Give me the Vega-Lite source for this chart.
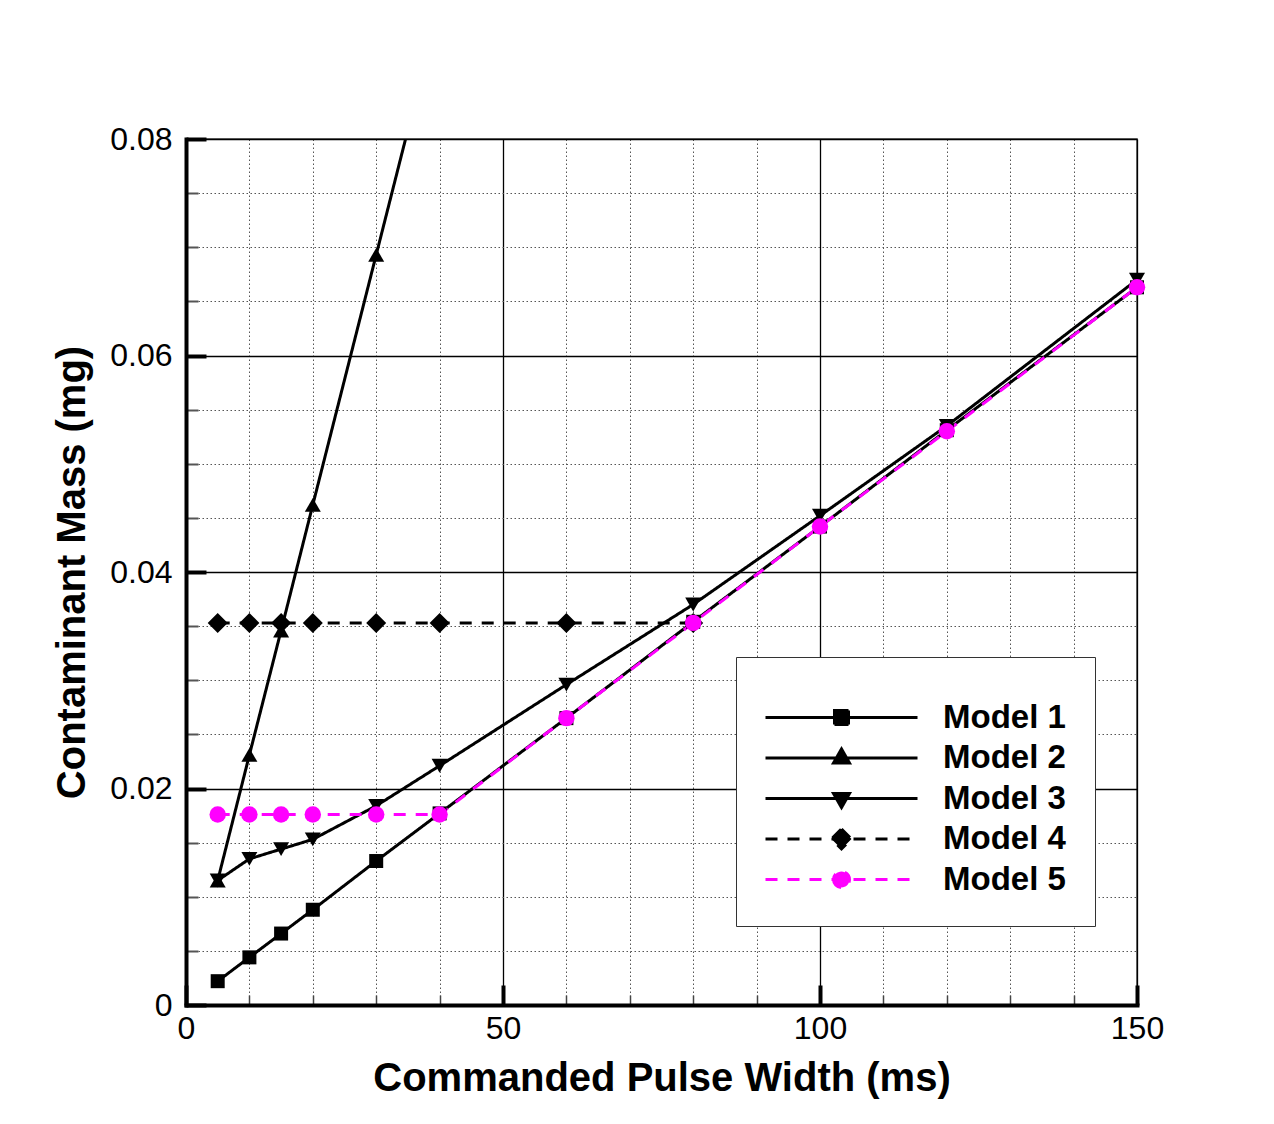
{
  "$schema": "https://vega.github.io/schema/vega-lite/v6.json",
  "autosize": "none",
  "width": 951,
  "height": 866,
  "padding": {"left": 186, "top": 139, "right": 137, "bottom": 119},
  "background": "white",
  "config": {"view": {"stroke": "#444", "strokeWidth": 1.5}, "font": "Liberation Sans"},
  "data": {"values": [
    {"model": "Model 1", "pw": 5, "mass": 0.0022},
    {"model": "Model 1", "pw": 10, "mass": 0.0044},
    {"model": "Model 1", "pw": 15, "mass": 0.0066},
    {"model": "Model 1", "pw": 20, "mass": 0.0088},
    {"model": "Model 1", "pw": 30, "mass": 0.0133},
    {"model": "Model 1", "pw": 40, "mass": 0.0177},
    {"model": "Model 1", "pw": 60, "mass": 0.0265},
    {"model": "Model 1", "pw": 80, "mass": 0.0354},
    {"model": "Model 1", "pw": 100, "mass": 0.0442},
    {"model": "Model 1", "pw": 120, "mass": 0.0531},
    {"model": "Model 1", "pw": 150, "mass": 0.0663},
    {"model": "Model 2", "pw": 5, "mass": 0.0115},
    {"model": "Model 2", "pw": 10, "mass": 0.0231},
    {"model": "Model 2", "pw": 15, "mass": 0.0346},
    {"model": "Model 2", "pw": 20, "mass": 0.0462},
    {"model": "Model 2", "pw": 30, "mass": 0.0693},
    {"model": "Model 2", "pw": 40, "mass": 0.0924},
    {"model": "Model 3", "pw": 5, "mass": 0.0115},
    {"model": "Model 3", "pw": 10, "mass": 0.0135},
    {"model": "Model 3", "pw": 15, "mass": 0.0144},
    {"model": "Model 3", "pw": 20, "mass": 0.0153},
    {"model": "Model 3", "pw": 30, "mass": 0.0184},
    {"model": "Model 3", "pw": 40, "mass": 0.0221},
    {"model": "Model 3", "pw": 60, "mass": 0.0296},
    {"model": "Model 3", "pw": 80, "mass": 0.0370},
    {"model": "Model 3", "pw": 100, "mass": 0.0452},
    {"model": "Model 3", "pw": 120, "mass": 0.0535},
    {"model": "Model 3", "pw": 150, "mass": 0.0670},
    {"model": "Model 4", "pw": 5, "mass": 0.0353},
    {"model": "Model 4", "pw": 10, "mass": 0.0353},
    {"model": "Model 4", "pw": 15, "mass": 0.0353},
    {"model": "Model 4", "pw": 20, "mass": 0.0353},
    {"model": "Model 4", "pw": 30, "mass": 0.0353},
    {"model": "Model 4", "pw": 40, "mass": 0.0353},
    {"model": "Model 4", "pw": 60, "mass": 0.0353},
    {"model": "Model 4", "pw": 80, "mass": 0.0353},
    {"model": "Model 5", "pw": 5, "mass": 0.0176},
    {"model": "Model 5", "pw": 10, "mass": 0.0176},
    {"model": "Model 5", "pw": 15, "mass": 0.0176},
    {"model": "Model 5", "pw": 20, "mass": 0.0176},
    {"model": "Model 5", "pw": 30, "mass": 0.0176},
    {"model": "Model 5", "pw": 40, "mass": 0.0176},
    {"model": "Model 5", "pw": 60, "mass": 0.0265},
    {"model": "Model 5", "pw": 80, "mass": 0.0353},
    {"model": "Model 5", "pw": 100, "mass": 0.0442},
    {"model": "Model 5", "pw": 120, "mass": 0.0530},
    {"model": "Model 5", "pw": 150, "mass": 0.0663}
  ]},
  "encoding": {
    "x": {
      "field": "pw", "type": "quantitative",
      "scale": {"domain": [0, 150], "nice": false, "zero": false},
      "axis": {
        "values": [0, 10, 20, 30, 40, 50, 60, 70, 80, 90, 100, 110, 120, 130, 140, 150],
        "title": "Commanded Pulse Width (ms)",
        "titleFont": "Liberation Sans", "titleFontSize": 40, "titleFontWeight": "bold", "titleColor": "black", "titlePadding": 4,
        "labelExpr": "datum.value % 50 === 0 ? datum.label : ''",
        "labelFont": "Liberation Sans", "labelFontSize": 32, "labelColor": "black", "labelPadding": 28,
        "labelFlush": false, "labelOverlap": false, "labelBound": false,
        "domain": true, "domainColor": "black", "domainWidth": 4, "domainCap": "square",
        "ticks": true,
        "tickSize": {"condition": {"test": "datum.value % 50 === 0", "value": -20}, "value": -10},
        "tickWidth": {"condition": {"test": "datum.value % 50 === 0", "value": 4}, "value": 1.5},
        "tickColor": {"condition": {"test": "datum.value % 50 === 0", "value": "black"}, "value": "#444"},
        "grid": true,
        "gridColor": {"condition": {"test": "datum.value % 50 === 0", "value": "black"}, "value": "#555"},
        "gridWidth": {"condition": {"test": "datum.value % 50 === 0", "value": 1.3}, "value": 1},
        "gridDash": {"condition": {"test": "datum.value % 50 === 0", "value": []}, "value": [1.5, 2.5]}
      }
    },
    "y": {
      "field": "mass", "type": "quantitative",
      "scale": {"domain": [0, 0.08], "nice": false},
      "axis": {
        "values": [0, 0.005, 0.01, 0.015, 0.02, 0.025, 0.03, 0.035, 0.04, 0.045, 0.05, 0.055, 0.06, 0.065, 0.07, 0.075, 0.08],
        "title": "Contaminant Mass (mg)",
        "titleFont": "Liberation Sans", "titleFontSize": 40, "titleFontWeight": "bold", "titleColor": "black", "titlePadding": 17,
        "labelExpr": "round(datum.value * 1000) % 20 === 0 ? (datum.value === 0 ? '0' : format(datum.value, '.2f')) : ''",
        "labelFont": "Liberation Sans", "labelFontSize": 32, "labelColor": "black", "labelPadding": 34,
        "labelOverlap": false, "labelBound": false, "labelFlush": false,
        "domain": true, "domainColor": "black", "domainWidth": 4, "domainCap": "square",
        "ticks": true,
        "tickSize": {"condition": {"test": "round(datum.value * 1000) % 20 === 0", "value": -20}, "value": -12},
        "tickWidth": {"condition": {"test": "round(datum.value * 1000) % 20 === 0", "value": 4}, "value": 2},
        "tickColor": {"condition": {"test": "round(datum.value * 1000) % 20 === 0", "value": "black"}, "value": "#555"},
        "grid": true,
        "gridColor": {"condition": {"test": "round(datum.value * 1000) % 20 === 0", "value": "black"}, "value": "#555"},
        "gridWidth": {"condition": {"test": "round(datum.value * 1000) % 20 === 0", "value": 1.3}, "value": 1},
        "gridDash": {"condition": {"test": "round(datum.value * 1000) % 20 === 0", "value": []}, "value": [1.5, 2.5]}
      }
    }
  },
  "layer": [
    {
      "mark": {"type": "line", "clip": true, "strokeWidth": 3},
      "encoding": {
        "stroke": {
          "field": "model", "type": "nominal",
          "scale": {"domain": ["Model 1", "Model 2", "Model 3", "Model 4", "Model 5"], "range": ["black", "black", "black", "black", "#ff00ff"]}
        },
        "strokeDash": {
          "field": "model", "type": "nominal",
          "scale": {"domain": ["Model 1", "Model 2", "Model 3", "Model 4", "Model 5"], "range": [[1, 0], [1, 0], [1, 0], [12, 10], [12, 10]]}
        }
      }
    },
    {
      "transform": [{"filter": "datum.model === 'Model 1'"}],
      "mark": {"type": "point", "shape": "square", "size": 196, "filled": true, "color": "black", "opacity": 1}
    },
    {
      "transform": [{"filter": "datum.model === 'Model 2' && datum.mass <= 0.08"}],
      "mark": {"type": "point", "shape": "triangle-up", "size": 256, "filled": true, "color": "black", "opacity": 1}
    },
    {
      "transform": [{"filter": "datum.model === 'Model 3'"}],
      "mark": {"type": "point", "shape": "triangle-down", "size": 256, "filled": true, "color": "black", "opacity": 1}
    },
    {
      "transform": [{"filter": "datum.model === 'Model 4'"}],
      "mark": {"type": "point", "shape": "diamond", "size": 400, "filled": true, "color": "black", "opacity": 1}
    },
    {
      "transform": [{"filter": "datum.model === 'Model 5'"}],
      "mark": {"type": "point", "shape": "circle", "size": 270, "filled": true, "color": "#ff00ff", "opacity": 1}
    },
    {
      "transform": [{"filter": "false"}],
      "mark": {"type": "point", "filled": true, "opacity": 1},
      "encoding": {
        "fill": {
          "field": "model", "type": "nominal",
          "scale": {"domain": ["Model 1", "Model 2", "Model 3", "Model 4", "Model 5"], "range": ["black", "black", "black", "black", "#ff00ff"]},
          "legend": {
            "orient": "none", "legendX": 550, "legendY": 518, "direction": "vertical",
            "title": " ", "titleFontSize": 11, "titlePadding": 4,
            "padding": 29, "fillColor": "white", "strokeColor": "#333",
            "symbolSize": 4, "symbolOffset": 60, "labelOffset": 85, "rowPadding": 6.5,
            "symbolStrokeWidth": 3, "symbolOpacity": 1,
            "labelFont": "Liberation Sans", "labelFontSize": 33, "labelFontWeight": "bold", "labelColor": "black"
          }
        },
        "stroke": {
          "field": "model", "type": "nominal",
          "legend": {
            "orient": "none", "legendX": 550, "legendY": 518, "direction": "vertical",
            "title": " ", "titleFontSize": 11, "titlePadding": 4,
            "padding": 29, "fillColor": "white", "strokeColor": "#333",
            "symbolSize": 4, "symbolOffset": 60, "labelOffset": 85, "rowPadding": 6.5,
            "symbolStrokeWidth": 3, "symbolOpacity": 1,
            "labelFont": "Liberation Sans", "labelFontSize": 33, "labelFontWeight": "bold", "labelColor": "black"
          }
        },
        "strokeDash": {
          "field": "model", "type": "nominal",
          "legend": {
            "orient": "none", "legendX": 550, "legendY": 518, "direction": "vertical",
            "title": " ", "titleFontSize": 11, "titlePadding": 4,
            "padding": 29, "fillColor": "white", "strokeColor": "#333",
            "symbolSize": 4, "symbolOffset": 60, "labelOffset": 85, "rowPadding": 6.5,
            "symbolStrokeWidth": 3, "symbolOpacity": 1,
            "labelFont": "Liberation Sans", "labelFontSize": 33, "labelFontWeight": "bold", "labelColor": "black"
          }
        },
        "shape": {
          "field": "model", "type": "nominal",
          "scale": {"domain": ["Model 1", "Model 2", "Model 3", "Model 4", "Model 5"], "range": [
            "M-76,0H76M-7,-7H7V7H-7Z",
            "M-76,0H76M0,-9L8,5L-8,5Z",
            "M-76,0H76M0,9L8,-5L-8,-5Z",
            "M-76,0H76M0,-10L10,0L0,10L-10,0Z",
            "M-76,0H76M-8,0A8,8 0 1,0 8,0A8,8 0 1,0 -8,0Z"
          ]},
          "legend": {
            "orient": "none", "legendX": 550, "legendY": 518, "direction": "vertical",
            "title": " ", "titleFontSize": 11, "titlePadding": 4,
            "padding": 29, "fillColor": "white", "strokeColor": "#333",
            "symbolSize": 4, "symbolOffset": 60, "labelOffset": 85, "rowPadding": 6.5,
            "symbolStrokeWidth": 3, "symbolOpacity": 1,
            "labelFont": "Liberation Sans", "labelFontSize": 33, "labelFontWeight": "bold", "labelColor": "black"
          }
        }
      }
    }
  ]
}
